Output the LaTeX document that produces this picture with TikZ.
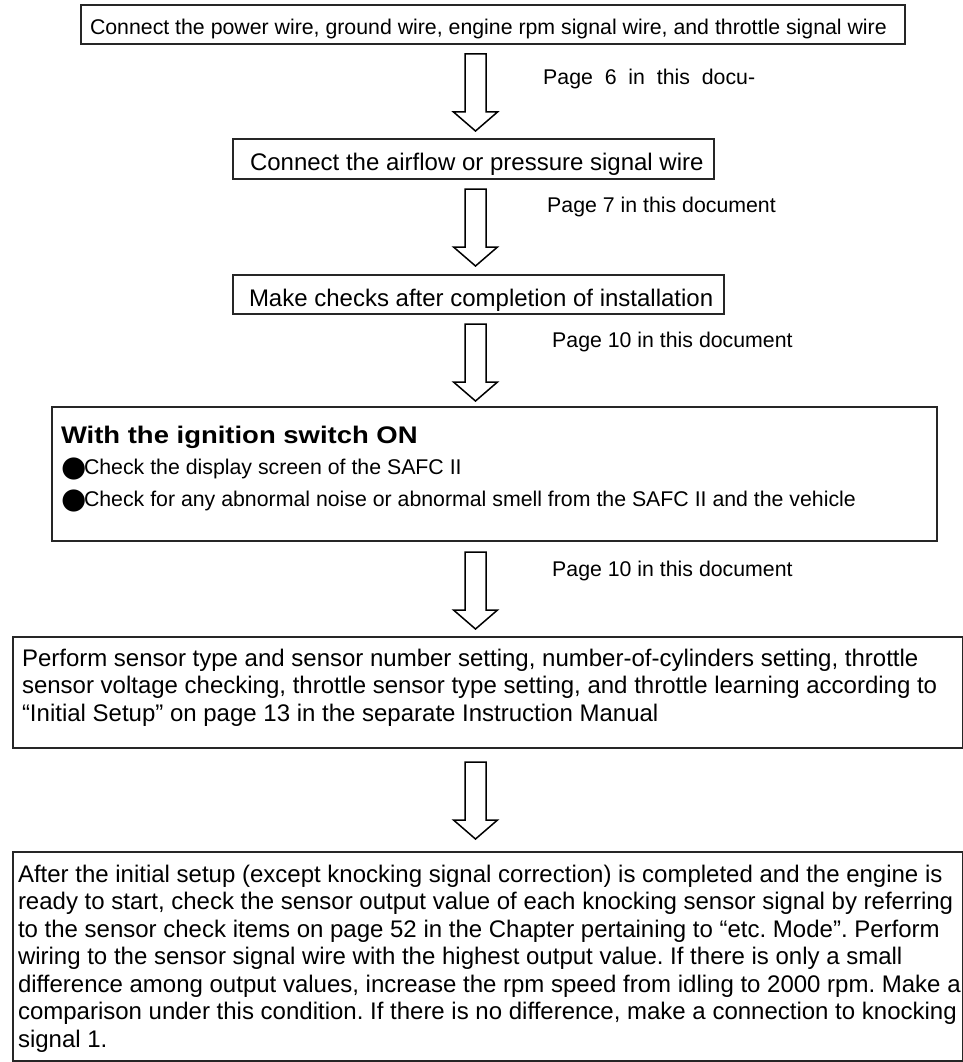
\documentclass[tikz,border=0pt]{standalone}
\usepackage{graphicx}
\usepackage{fontspec}
\setmainfont[Ligatures=NoCommon]{Liberation Sans}
\newfontfamily\bulletfont{DejaVu Sans}
\usetikzlibrary{calc}
\frenchspacing
\newcommand\boxlines[2]{\makebox[#1][l]{\begin{tabular}[t]{@{}l@{}}#2\end{tabular}}}
\newcommand\blt{\makebox[23pt][l]{\raisebox{-2pt}{\bulletfont\fontsize{29}{29}\selectfont ●}}}
\begin{document}
\begin{tikzpicture}[x=1pt,y=1pt,
  flowbox/.style={draw=black!85, line width=1.3pt, anchor=north west, inner ysep=0pt, outer sep=0pt},
  bigtext/.style={font=\fontsize{24}{27.5}\selectfont},
  smalltext/.style={font=\fontsize{21.3}{26}\selectfont},
  pagelabel/.style={anchor=base west, inner sep=0pt, font=\fontsize{21.3}{26}\selectfont},
  hollow/.pic={\draw[line width=1.5pt, line join=miter] (-10.5,0) -- (-10.5,-58) -- (-22,-58) -- (0,-77) -- (22,-58) -- (10.5,-58) -- (10.5,0) -- cycle;}
]
\useasboundingbox (0,0) rectangle (963,-1062);

% boxes
\node[flowbox, smalltext, inner xsep=9pt, text height=29.5pt, text depth=9.5pt] (b1) at (81,-5)
  {\boxlines{806pt}{Connect the power wire, ground wire, engine rpm signal wire, and throttle signal wire}};
\node[flowbox, bigtext, inner xsep=17pt, text height=31.5pt, text depth=8.5pt] (b2) at (233,-139)
  {\boxlines{447pt}{Connect the airflow or pressure signal wire}};
\node[flowbox, bigtext, inner xsep=16pt, text height=31.5pt, text depth=7.5pt] (b3) at (233,-275)
  {\boxlines{459pt}{Make checks after completion of installation}};
\node[flowbox, font=\fontsize{21.3}{31.75}\selectfont, inner xsep=9pt, text height=36pt, text depth=98pt] (b4) at (52,-407)
  {\boxlines{867pt}{{\fontsize{24}{24}\selectfont\bfseries\scalebox{1.144}[1]{With the ignition switch ON}}\\
   \blt Check the display screen of the SAFC II\\
   \blt Check for any abnormal noise or abnormal smell from the SAFC II and the vehicle}};
\node[flowbox, bigtext, inner xsep=9pt, text height=29pt, text depth=82pt] (b5) at (13,-637)
  {\boxlines{931.5pt}{Perform sensor type and sensor number setting, number-of-cylinders setting, throttle\\
   sensor voltage checking, throttle sensor type setting, and throttle learning according to\\
   “Initial Setup” on page 13 in the separate Instruction Manual}};
\node[flowbox, bigtext, inner xsep=5pt, text height=30pt, text depth=179pt] (b6) at (13,-852)
  {\boxlines{939.5pt}{After the initial setup (except knocking signal correction) is completed and the engine is\\
   ready to start, check the sensor output value of each knocking sensor signal by referring\\
   to the sensor check items on page 52 in the Chapter pertaining to “etc. Mode”. Perform\\
   wiring to the sensor signal wire with the highest output value. If there is only a small\\
   difference among output values, increase the rpm speed from idling to 2000 rpm. Make a\\
   comparison under this condition. If there is no difference, make a connection to knocking\\
   signal 1.}};

% hollow arrows
\pic at (475.5,-54) {hollow};
\pic at (475.5,-189) {hollow};
\pic at (475.5,-324) {hollow};
\pic at (475.5,-552) {hollow};
\pic at (475.5,-762) {hollow};

% page labels
\node[pagelabel] (p1) at (543,-85) {\makebox[212pt][s]{Page 6 in this docu-}};
\node[pagelabel] (p2) at (547,-212) {Page 7 in this document};
\node[pagelabel] (p3) at (552,-347) {Page 10 in this document};
\node[pagelabel] (p4) at (552,-576.5) {Page 10 in this document};
\end{tikzpicture}
\end{document}
